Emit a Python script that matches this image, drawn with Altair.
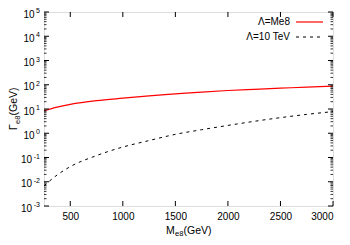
import altair as alt
import pandas as pd

# ---- data ----
mass = [250, 375, 500, 750, 1000, 1250, 1500, 1750, 2000, 2250, 2500, 2750, 3000]
gamma_me8 = [8.5, 12, 15.5, 22, 28, 35, 42, 50, 58, 65, 72, 80, 87]
gamma_10tev = [0.0068, 0.019, 0.042, 0.12, 0.27, 0.5, 0.9, 1.4, 2.1, 3.1, 4.4, 6.0, 7.8]
series_names = ["Λ=Me8", "Λ=10 TeV"]
x_tick_values = [500, 1000, 1500, 2000, 2500, 3000]
y_exponents = [-3, -2, -1, 0, 1, 2, 3, 4, 5]
minor_multipliers = [2, 3, 4, 5, 6, 7, 8, 9]
x_title_parts = ["M", "e8", "(GeV)"]
y_title_parts = ["Γ", "e8", "(GeV)"]

W, H = 289, 194
FONT = "Liberation Sans"

df = pd.DataFrame({
    "M": mass * 2,
    "G": gamma_me8 + gamma_10tev,
    "s": [series_names[0]] * len(mass) + [series_names[1]] * len(mass),
})
major_vals = [10.0 ** e for e in y_exponents]
minor_vals = [m * 10.0 ** e for e in y_exponents[:-1] for m in minor_multipliers]

xs = alt.Scale(domain=[250, 3000], nice=False, zero=False)
ys = alt.Scale(type="log", domain=[1e-3, 1e5], nice=False)

x_axis = alt.Axis(values=x_tick_values, format="d", tickSize=0, domain=False, grid=False,
                  labelFont=FONT, labelFontSize=10, labelColor="#000",
                  labelPadding=5, title=None)

base = alt.Chart(df)

red = base.transform_filter(alt.datum.s == series_names[0]).mark_line(
    color="#ff0000", strokeWidth=1.2, interpolate="monotone", clip=True
).encode(x=alt.X("M:Q", scale=xs, axis=x_axis), y=alt.Y("G:Q", scale=ys, axis=None))

dash = base.transform_filter(alt.datum.s == series_names[1]).mark_line(
    color="#000", strokeWidth=1, strokeDash=[3, 4], interpolate="monotone", clip=True
).encode(x=alt.X("M:Q", scale=xs), y=alt.Y("G:Q", scale=ys))

ymaj = alt.Chart(pd.DataFrame({"v": major_vals}))
ymin = alt.Chart(pd.DataFrame({"v": minor_vals}))
xt = alt.Chart(pd.DataFrame({"v": x_tick_values}))

tick_style = dict(color="#000", strokeWidth=1)
ticks = [
    ymaj.mark_rule(**tick_style).encode(y=alt.Y("v:Q", scale=ys), x=alt.value(0), x2=alt.value(5)),
    ymaj.mark_rule(**tick_style).encode(y=alt.Y("v:Q", scale=ys), x=alt.value(W - 5), x2=alt.value(W)),
    ymin.mark_rule(color="#000", strokeWidth=0.8).encode(y=alt.Y("v:Q", scale=ys), x=alt.value(0), x2=alt.value(2.5)),
    ymin.mark_rule(color="#000", strokeWidth=0.8).encode(y=alt.Y("v:Q", scale=ys), x=alt.value(W - 2.5), x2=alt.value(W)),
    xt.mark_rule(**tick_style).encode(x=alt.X("v:Q", scale=xs), y=alt.value(H - 5), y2=alt.value(H)),
    xt.mark_rule(**tick_style).encode(x=alt.X("v:Q", scale=xs), y=alt.value(0), y2=alt.value(5)),
]

# y tick labels: "10" with a superscript exponent
ylab = pd.DataFrame({"v": major_vals, "e": [str(e) for e in y_exponents],
                     "neg": [e < 0 for e in y_exponents]})
ylc = alt.Chart(ylab)
ylabels = [
    ylc.transform_filter("!datum.neg").mark_text(align="right", baseline="middle", font=FONT,
                                                 fontSize=10, color="#000", dy=2.5).encode(
        y=alt.Y("v:Q", scale=ys), x=alt.value(-9.5), text=alt.value("10")),
    ylc.transform_filter("datum.neg").mark_text(align="right", baseline="middle", font=FONT,
                                                fontSize=10, color="#000", dy=2.5).encode(
        y=alt.Y("v:Q", scale=ys), x=alt.value(-12), text=alt.value("10")),
    ylc.mark_text(align="right", baseline="middle", font=FONT, fontSize=7, color="#000", dy=-1).encode(
        y=alt.Y("v:Q", scale=ys), x=alt.value(-4), text="e:N"),
]

# axis titles with subscripts
def piece(txt, size, **kw):
    return alt.Chart(pd.DataFrame({"t": [txt]})).mark_text(
        font=FONT, fontSize=size, color="#000", align="left", baseline="alphabetic", **kw
    ).encode(text="t:N")

titles = [
    piece(x_title_parts[0], 10.5).encode(x=alt.value(122), y=alt.value(221.5)),
    piece(x_title_parts[1], 7.5).encode(x=alt.value(131), y=alt.value(224)),
    piece(x_title_parts[2], 10.5).encode(x=alt.value(139.5), y=alt.value(221.5)),
    piece(y_title_parts[0], 10.5, angle=270).encode(x=alt.value(-27), y=alt.value(118)),
    piece(y_title_parts[1], 7.5, angle=270).encode(x=alt.value(-24.5), y=alt.value(112)),
    piece(y_title_parts[2], 10.5, angle=270).encode(x=alt.value(-27), y=alt.value(103.5)),
]

leg1 = alt.Chart(pd.DataFrame({"t": [series_names[0]]}))
leg2 = alt.Chart(pd.DataFrame({"t": [series_names[1]]}))
legend = [
    leg1.mark_text(align="right", baseline="middle", font=FONT, fontSize=10, color="#000").encode(
        text="t:N", x=alt.value(246), y=alt.value(10)),
    leg1.mark_rule(color="#ff0000", strokeWidth=1.2).encode(x=alt.value(252), x2=alt.value(279), y=alt.value(10)),
    leg2.mark_text(align="right", baseline="middle", font=FONT, fontSize=10, color="#000").encode(
        text="t:N", x=alt.value(246), y=alt.value(25)),
    leg2.mark_rule(color="#000", strokeWidth=1, strokeDash=[3, 4]).encode(x=alt.value(252), x2=alt.value(279), y=alt.value(25)),
]

chart = alt.layer(red, dash, *ticks, *ylabels, *titles, *legend).properties(
    width=W, height=H,
    autosize=alt.AutoSizeParams(type="none"),
    padding={"left": 36, "top": 4, "right": 9, "bottom": 31},
).configure_view(stroke="#000", strokeWidth=1).configure(background="white")

chart.save("out.html", embed_options={"renderer": "svg", "actions": False})
